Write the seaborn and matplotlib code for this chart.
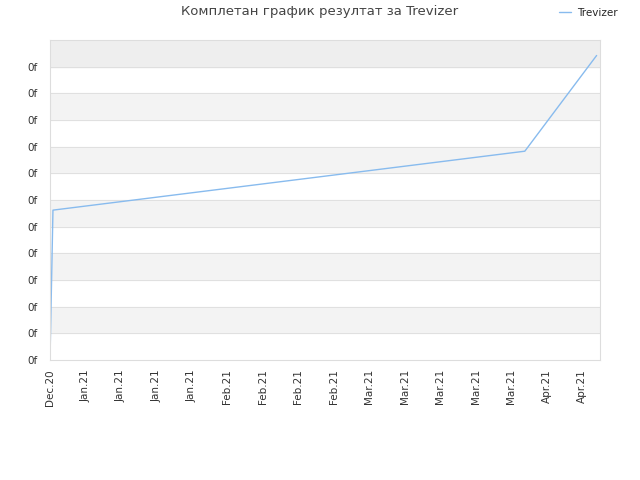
import matplotlib
matplotlib.use("Agg")
import matplotlib.pyplot as plt
import pandas as pd
import seaborn as sns

sns.set_style("white")
plt.rcParams["font.family"] = ["DejaVu Sans"]

dates = pd.to_datetime(["2020-12-28 00:00", "2020-12-28 14:00", "2021-03-31 16:00", "2021-04-14 20:00"])
scores = [0.0, 5.62, 7.83, 11.42]
tick_dates = pd.date_range("2020-12-28", periods=16, freq="7D")
tick_labels = [d.strftime("%b") + "." + d.strftime("%y") for d in tick_dates]

df = pd.DataFrame({"date": dates, "score": scores})

fig = plt.figure(figsize=(6.4, 4.8), dpi=100)
ax = fig.add_axes([50 / 640, 120 / 480, 550 / 640, 320 / 480])

# alternating background bands
for i in range(12):
    if i % 2 == 1:
        ax.axhspan(i, i + 1, color="#f3f3f3", zorder=0)
ax.axhspan(11, 12, color="#eeeeee", zorder=0)
for i in range(1, 12):
    ax.axhline(i, color="#dddddd", lw=0.6, zorder=1)

sns.lineplot(data=df, x="date", y="score", ax=ax, color="#88bbee", lw=1, label="Trevizer")

ax.set_xlim(pd.Timestamp("2020-12-28"), pd.Timestamp("2020-12-28") + pd.Timedelta(days=108.5))
ax.set_ylim(0, 12)
ax.set_yticks(range(12))
ax.set_yticklabels(["0f"] * 12)
ax.set_xticks(tick_dates)
ax.set_xticklabels(tick_labels, rotation=90)
ax.tick_params(labelsize=7.5, colors="#333333", length=3)
ax.tick_params(axis="y", pad=6)
ax.set_xlabel("")
ax.set_ylabel("")
for s in ax.spines.values():
    s.set_color("#dddddd")

fig.suptitle("Комплетан график резултат за Trevizer", x=0.5, y=0.99, fontsize=9.5, color="#444444")
ax.legend(loc="upper right", bbox_to_anchor=(1.05, 1.13), frameon=False, fontsize=7.5,
          handlelength=1.2, handletextpad=0.6)

fig.savefig("out.png", dpi=100)
